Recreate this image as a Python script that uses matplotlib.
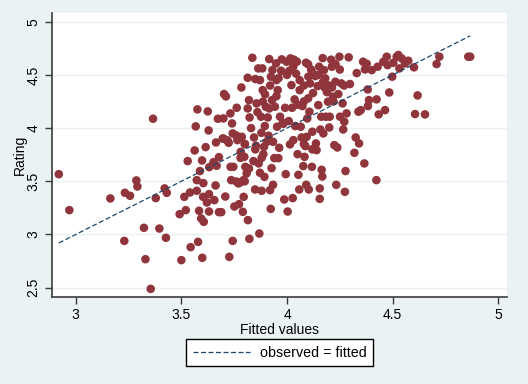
import matplotlib
matplotlib.use("Agg")
import matplotlib.pyplot as plt
import numpy as np

fitted = [2.92, 2.97, 3.164, 3.233, 3.257, 3.287, 3.292, 3.230, 3.323, 3.330, 3.355, 3.366, 3.379, 3.396, 3.421, 3.431, 3.427, 3.492, 3.500, 3.514, 3.521, 3.530, 3.544, 3.541, 3.563, 3.568, 3.576, 3.573, 3.573, 3.579, 3.584, 3.588, 3.594, 3.599, 3.598, 3.604, 3.603, 3.606, 3.615, 3.621, 3.625, 3.629, 3.631, 3.631, 3.632, 3.652, 3.656, 3.662, 3.664, 3.667, 3.673, 3.678, 3.678, 3.689, 3.699, 3.702, 3.708, 3.696, 3.711, 3.715, 3.724, 3.727, 3.732, 3.733, 3.736, 3.740, 3.743, 3.743, 3.746, 3.751, 3.762, 3.760, 3.765, 3.773, 3.778, 3.781, 3.784, 3.786, 3.789, 3.791, 3.794, 3.795, 3.798, 3.801, 3.803, 3.809, 3.814, 3.815, 3.814, 3.820, 3.823, 3.822, 3.836, 3.841, 3.844, 3.849, 3.850, 3.853, 3.856, 3.864, 3.866, 3.869, 3.872, 3.872, 3.877, 3.879, 3.880, 3.883, 3.885, 3.886, 3.888, 3.891, 3.893, 3.895, 3.896, 3.904, 3.909, 3.913, 3.916, 3.916, 3.920, 3.923, 3.924, 3.927, 3.929, 3.931, 3.934, 3.934, 3.940, 3.943, 3.948, 3.950, 3.953, 3.956, 3.959, 3.963, 3.967, 3.972, 3.975, 3.983, 3.987, 3.991, 3.994, 3.998, 4.003, 4.008, 4.011, 4.014, 4.016, 4.021, 4.024, 4.027, 4.030, 4.033, 4.036, 4.039, 4.043, 4.047, 4.050, 4.054, 4.058, 4.060, 4.065, 4.069, 4.073, 4.077, 4.080, 4.083, 4.087, 4.090, 4.091, 4.093, 4.096, 4.101, 4.103, 4.106, 4.109, 4.114, 4.118, 4.120, 4.123, 4.128, 4.134, 4.137, 4.140, 4.145, 4.148, 4.152, 4.155, 4.155, 4.158, 4.162, 4.164, 4.167, 4.169, 4.172, 4.175, 4.178, 4.181, 4.184, 4.189, 4.194, 4.200, 4.202, 4.209, 4.212, 4.213, 4.218, 4.224, 4.229, 4.233, 4.238, 4.243, 4.248, 4.251, 4.257, 4.263, 4.266, 4.271, 4.274, 4.277, 4.282, 4.292, 4.298, 4.319, 4.325, 4.330, 4.341, 4.338, 4.349, 4.360, 4.366, 4.369, 4.377, 4.382, 4.383, 4.388, 4.401, 4.423, 4.424, 4.429, 4.434, 4.456, 4.464, 4.472, 4.476, 4.484, 4.498, 4.503, 4.519, 4.527, 4.532, 4.543, 4.558, 4.574, 4.601, 4.606, 4.618, 4.653, 4.708, 4.721, 4.858, 4.867,
          4.10, 4.12, 4.06, 4.08, 4.15, 4.17, 4.03, 4.00, 3.96, 3.92, 3.90, 3.86, 3.83, 3.80, 3.76, 3.72, 3.70, 3.78, 3.82, 3.80, 3.77, 3.95, 4.05, 4.10, 4.20, 4.22, 4.25, 4.23, 4.27, 3.98, 3.88, 3.85, 4.12, 4.08]
rating = [3.567, 3.229, 3.339, 3.392, 3.364, 3.508, 3.451, 2.940, 3.063, 2.768, 2.489, 4.088, 3.342, 3.056, 3.433, 3.392, 2.969, 3.191, 2.759, 3.354, 3.229, 3.690, 2.881, 3.395, 3.790, 4.016, 4.176, 3.511, 3.411, 2.931, 3.223, 3.596, 3.150, 2.781, 3.696, 3.483, 3.354, 3.119, 3.821, 3.301, 4.157, 3.978, 3.379, 3.216, 3.633, 3.680, 3.323, 3.461, 3.865, 3.646, 4.088, 3.210, 3.727, 3.210, 4.091, 4.320, 3.357, 3.903, 4.298, 3.887, 3.862, 2.790, 4.138, 3.636, 3.511, 4.044, 3.950, 2.940, 3.636, 3.263, 4.191, 3.498, 3.887, 3.285, 3.489, 3.777, 4.382, 3.918, 3.737, 3.213, 3.511, 3.354, 3.730, 3.850, 3.636, 3.574, 4.473, 3.135, 4.185, 4.263, 4.100, 2.959, 4.661, 3.690, 3.912, 3.423, 4.461, 3.834, 4.232, 4.561, 3.668, 3.009, 4.451, 3.580, 4.107, 3.956, 3.411, 4.561, 4.357, 4.248, 3.755, 3.824, 3.542, 4.019, 4.317, 3.871, 4.100, 3.928, 4.649, 4.185, 3.417, 3.241, 4.483, 3.624, 4.263, 4.545, 3.467, 3.871, 3.718, 4.201, 4.608, 4.451, 4.013, 4.357, 3.718, 3.815, 4.107, 4.539, 4.646, 4.041, 3.329, 4.191, 3.567, 4.624, 3.216, 4.066, 4.539, 3.847, 4.655, 4.404, 4.191, 3.342, 3.887, 4.643, 4.270, 4.019, 4.511, 4.624, 3.755, 3.561, 3.423, 4.357, 4.013, 3.912, 4.207, 3.643, 4.251, 3.730, 3.831, 4.614, 3.467, 3.918, 4.091, 4.483, 3.423, 4.154, 4.420, 4.551, 3.636, 3.966, 4.329, 3.809, 4.489, 3.856, 3.793, 4.395, 4.216, 4.577, 3.433, 3.335, 3.987, 4.107, 3.608, 3.545, 4.658, 3.950, 4.545, 4.382, 4.467, 4.107, 4.338, 4.248, 4.006, 4.107, 4.643, 4.577, 4.382, 4.295, 3.840, 4.436, 3.467, 3.818, 4.320, 4.671, 4.107, 4.420, 4.232, 3.987, 4.060, 3.401, 3.596, 4.138, 4.665, 4.414, 3.768, 3.912, 4.517, 3.856, 4.154, 4.169, 4.624, 3.668, 4.551, 4.605, 4.363, 4.207, 4.263, 4.545, 3.511, 4.270, 4.577, 4.129, 4.624, 4.169, 4.671, 4.592, 4.335, 4.483, 4.614, 4.671, 4.687, 4.561, 4.655, 4.608, 4.633, 4.571, 4.132, 4.307, 4.129, 4.602, 4.671, 4.671, 4.671,
          4.60, 4.52, 4.45, 4.40, 4.50, 4.43, 4.58, 4.50, 4.47, 4.40, 4.20, 4.15, 4.00, 3.85, 3.93, 3.88, 3.90, 3.72, 3.62, 3.50, 3.48, 4.30, 4.22, 4.28, 4.40, 4.25, 4.55, 4.60, 4.40, 4.05, 3.72, 3.80, 3.80, 3.85]

xticks = [3, 3.5, 4, 4.5, 5]
xticklabels = ["3", "3.5", "4", "4.5", "5"]
yticks = [2.5, 3, 3.5, 4, 4.5, 5]
yticklabels = ["2.5", "3", "3.5", "4", "4.5", "5"]

plt.rcParams['font.family'] = ['Liberation Sans', 'DejaVu Sans']

W, H = 528, 384
fig = plt.figure(figsize=(W/100, H/100), dpi=100)
fig.patch.set_facecolor('#eaf2f3')
ax = fig.add_axes([51.7/W, 1-296.7/H, (507.3-51.7)/W, (296.7-13.3)/H])
ax.set_facecolor('white')

px_per_x = 211.3
px_per_y = 106.4
ax.set_xlim(3 + (51.7-75.7)/px_per_x, 3 + (507.3-75.7)/px_per_x)
ax.set_ylim(5 - (296.7-21.7)/px_per_y, 5 + (21.7-13.3)/px_per_y)

for yt in yticks:
    ax.axhline(yt, color='#eaf2f3', lw=1.0, zorder=0)

ax.scatter(fitted, rating, s=38, color='#90353b', edgecolors='none', zorder=2)
lo, hi = min(fitted), max(fitted)
ax.plot([lo, hi], [lo, hi], color='#1a476f', lw=0.9, dashes=(4, 2), zorder=3,
        label='observed = fitted')

ax.set_xticks(xticks)
ax.set_xticklabels(xticklabels)
ax.set_yticks(yticks)
ax.set_yticklabels(yticklabels, rotation=90, va='center')
ax.tick_params(axis='both', direction='out', length=5, width=1, color='#3c3c3c',
               labelsize=10, labelcolor='black')
ax.tick_params(axis='x', pad=3)
ax.tick_params(axis='y', pad=3)

for s in ['top', 'right']:
    ax.spines[s].set_visible(False)
for s in ['left', 'bottom']:
    ax.spines[s].set_color('#3c3c3c')
    ax.spines[s].set_linewidth(1.2)

ax.set_xlabel('Fitted values', fontsize=10, labelpad=1)
ax.set_ylabel('Rating', fontsize=10, labelpad=0)

leg = ax.legend(loc='center', bbox_to_anchor=(279.5/W, 1-352.8/H),
                bbox_transform=fig.transFigure, frameon=True, fancybox=False,
                edgecolor='black', framealpha=1, fontsize=10.3, handlelength=4.0,
                borderpad=0.45, handletextpad=0.7, borderaxespad=0)
leg.get_frame().set_linewidth(1.0)
for t in leg.get_texts():
    t.set_x(0)
leg._legend_box.sep = 0

fig.savefig('out.png', dpi=100, facecolor=fig.get_facecolor())
